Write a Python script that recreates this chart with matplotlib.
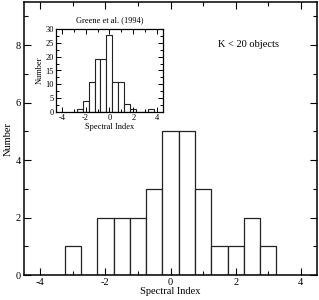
import matplotlib.pyplot as plt
import numpy as np

plt.rcParams['font.family'] = ['Liberation Serif', 'DejaVu Serif']
plt.rcParams['axes.unicode_minus'] = False

# main histogram (K < 20 objects)
centers = [-3.0, -2.5, -2.0, -1.5, -1.0, -0.5, 0.0, 0.5, 1.0, 1.5, 2.0, 2.5, 3.0]
counts = [1, 0, 2, 2, 2, 3, 5, 5, 3, 1, 1, 2, 1]

# inset histogram (Greene et al. 1994)
g_centers = [-2.5, -2.0, -1.5, -1.0, -0.5, 0.0, 0.5, 1.0, 1.5, 2.0, 2.5, 3.0, 3.5]
g_counts = [1, 4, 11, 19, 19, 28, 11, 11, 3, 1, 0, 0, 1]

fig = plt.figure(figsize=(3.19, 3.0), dpi=100)

ax = fig.add_axes([0.075, 0.083, 0.919, 0.91])
ax.bar(centers, counts, width=0.5, color='white', edgecolor='#222222', linewidth=0.9)
ax.set_xlim(-4.5, 4.5)
ax.set_ylim(0, 9.5)
ax.set_xticks([-4, -2, 0, 2, 4])
ax.set_xticks([-3, -1, 1, 3], minor=True)
ax.set_yticks([0, 2, 4, 6, 8])
ax.set_yticks([1, 3, 5, 7, 9], minor=True)
ax.tick_params(which='both', direction='in', top=True, right=True, labelsize=7.5, pad=2)
ax.tick_params(which='major', length=5, width=0.8)
ax.tick_params(which='minor', length=3, width=0.8)
for s in ax.spines.values():
    s.set_linewidth(1.1)
ax.set_xlabel('Spectral Index', fontsize=7.5, labelpad=0)
ax.set_ylabel('Number', fontsize=7.5, labelpad=2)
ax.text(0.765, 0.845, 'K < 20 objects', transform=ax.transAxes, fontsize=7.5,
        ha='center', va='center')

ins = fig.add_axes([0.175, 0.627, 0.336, 0.276])
ins.bar(g_centers, g_counts, width=0.5, color='white', edgecolor='#222222', linewidth=0.8)
ins.set_xlim(-4.5, 4.5)
ins.set_ylim(0, 30)
ins.set_xticks([-4, -2, 0, 2, 4])
ins.set_xticks([-3, -1, 1, 3], minor=True)
ins.set_yticks(np.arange(0, 31, 5))
ins.set_yticks(np.arange(2.5, 30, 5), minor=True)
ins.tick_params(which='both', direction='in', top=True, right=True, labelsize=6, pad=1.5)
ins.tick_params(which='major', length=3.5, width=0.7)
ins.tick_params(which='minor', length=2, width=0.7)
for s in ins.spines.values():
    s.set_linewidth(0.9)
ins.set_xlabel('Spectral Index', fontsize=6, labelpad=1)
ins.set_ylabel('Number', fontsize=6, labelpad=1)
ins.set_title('Greene et al. (1994)', fontsize=6, pad=5)

fig.savefig('out.png', dpi=100)
